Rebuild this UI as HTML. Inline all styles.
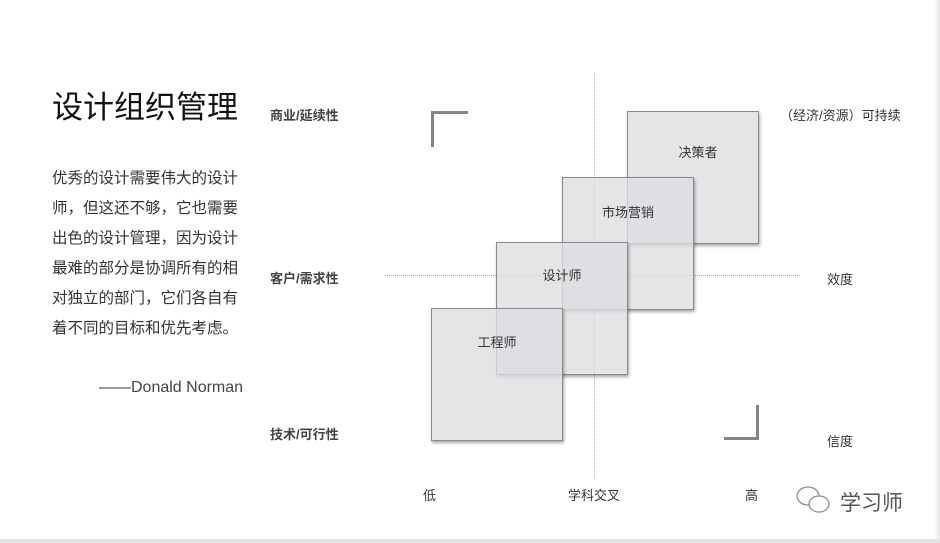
<!DOCTYPE html>
<html><head><meta charset="utf-8"><style>
body{margin:0;width:940px;height:543px;background:#fff;position:relative;overflow:hidden;font-family:"Liberation Sans","Noto Sans CJK SC",sans-serif;}
.a{position:absolute;white-space:nowrap;}
.box{position:absolute;width:130px;height:131px;background:rgba(222,221,224,0.78);border:1px solid #8a8a8a;box-shadow:1px 2px 3px rgba(0,0,0,0.35);}
.box span{position:absolute;left:0;right:0;text-align:center;font-size:13px;color:#333;}
.lab{font-size:13px;color:#333;}
</style></head><body>
<div style="position:absolute;right:0;top:0;width:6px;height:543px;background:linear-gradient(90deg,#fff,#e6e6e8);"></div>
<div style="position:absolute;left:0;bottom:0;width:940px;height:4px;background:#e2e2e2;"></div>
<div class="a" style="left:52px;top:82px;font-size:31px;color:#111;">设计组织管理</div>
<div class="a" style="left:52px;top:164px;font-size:15.5px;line-height:30px;color:#333;white-space:normal;width:190px;">优秀的设计需要伟大的设计师，但这还不够，它也需要出色的设计管理，因为设计最难的部分是协调所有的相对独立的部门，它们各自有着不同的目标和优先考虑。</div>
<div class="a" style="left:99px;top:379px;font-size:16px;color:#444;">——Donald Norman</div>
<div class="a lab" style="left:270px;top:105px;font-weight:bold;color:#444;">商业/延续性</div>
<div class="a lab" style="left:270px;top:268px;font-weight:bold;color:#444;">客户/需求性</div>
<div class="a lab" style="left:270px;top:424px;font-weight:bold;color:#444;">技术/可行性</div>
<div class="a lab" style="left:780px;top:105px;">（经济/资源）可持续</div>
<div class="a lab" style="left:827px;top:269px;">效度</div>
<div class="a lab" style="left:827px;top:431px;">信度</div>
<div class="a lab" style="left:423px;top:485px;">低</div>
<div class="a lab" style="left:568px;top:485px;">学科交叉</div>
<div class="a lab" style="left:745px;top:485px;">高</div>
<div style="position:absolute;left:594px;top:73px;height:405px;border-left:1px dotted #aaa;"></div>
<div style="position:absolute;left:385px;top:275px;width:415px;border-top:1px dotted #aaa;"></div>
<div style="position:absolute;left:431px;top:111px;width:34px;height:33px;border-left:3px solid #858585;border-top:3px solid #858585;"></div>
<div style="position:absolute;left:724px;top:405px;width:32px;height:32px;border-right:3px solid #858585;border-bottom:3px solid #858585;"></div>
<div class="box" style="left:627px;top:111px;"><span style="top:30px;padding-left:10px;">决策者</span></div>
<div class="box" style="left:562px;top:177px;"><span style="top:24px;">市场营销</span></div>
<div class="box" style="left:496px;top:242px;"><span style="top:22px;">设计师</span></div>
<div class="box" style="left:431px;top:308px;"><span style="top:23px;">工程师</span></div>
<svg class="a" style="left:795px;top:485px;" width="40" height="32" viewBox="0 0 40 32" fill="none" stroke="#888" stroke-width="1.2"><ellipse cx="13" cy="11" rx="11" ry="9"/><ellipse cx="24" cy="19" rx="10" ry="8" fill="#fff"/></svg>
<div class="a" style="left:840px;top:487px;font-size:21px;color:#555;">学习师</div>
</body></html>
